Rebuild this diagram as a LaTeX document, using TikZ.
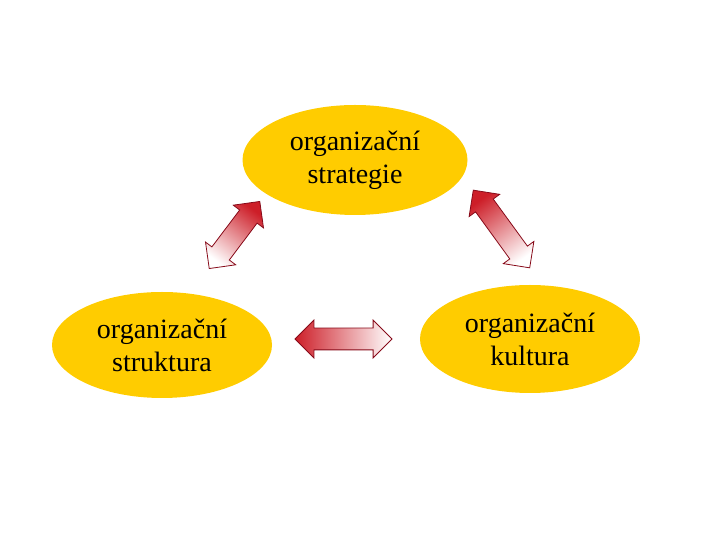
\documentclass[tikz,border=0pt]{standalone}
\usepackage{fontspec}
\setmainfont{Liberation Serif}
\usetikzlibrary{shapes.geometric,shapes.arrows}
\definecolor{zluta}{RGB}{255,204,0}
\definecolor{cervena}{RGB}{205,30,40}
\definecolor{obrys}{RGB}{135,10,25}
\tikzset{
  elipsa/.style={ellipse, fill=zluta, inner sep=0pt, minimum width=220pt,
    minimum height=106pt, align=center, font=\fontsize{28}{33}\selectfont},
  sipka/.style 2 args={double arrow, draw=obrys, line width=0.8pt, top color=cervena,
    bottom color=white, shading angle=#2, minimum height=#1,
    double arrow head extend=8pt, inner xsep=0pt, inner ysep=10.5pt,
    text height=0pt, text depth=0pt}
}
\begin{document}
\begin{tikzpicture}[x=1pt,y=1pt]
    % Plocha
    \useasboundingbox (0,0) rectangle (720,540);

    % Elipsy
    \node[elipsa, minimum width=225pt, minimum height=110pt] (strategie) at (355,380) {organizační\\strategie};
    \node[elipsa] (struktura) at (162,195) {organizační\\struktura};
    \node[elipsa, minimum height=108pt] (kultura) at (530,201) {organizační\\kultura};

    % Oboustranné šipky
    \node[sipka={97pt}{90}] (s1) at (343.5,201) {};
    \node[sipka={84pt}{-37}, rotate=53] (s2) at (234.5,305) {};
    \node[sipka={96pt}{36}, rotate=-54] (s3) at (501.5,311) {};
\end{tikzpicture}
\end{document}
